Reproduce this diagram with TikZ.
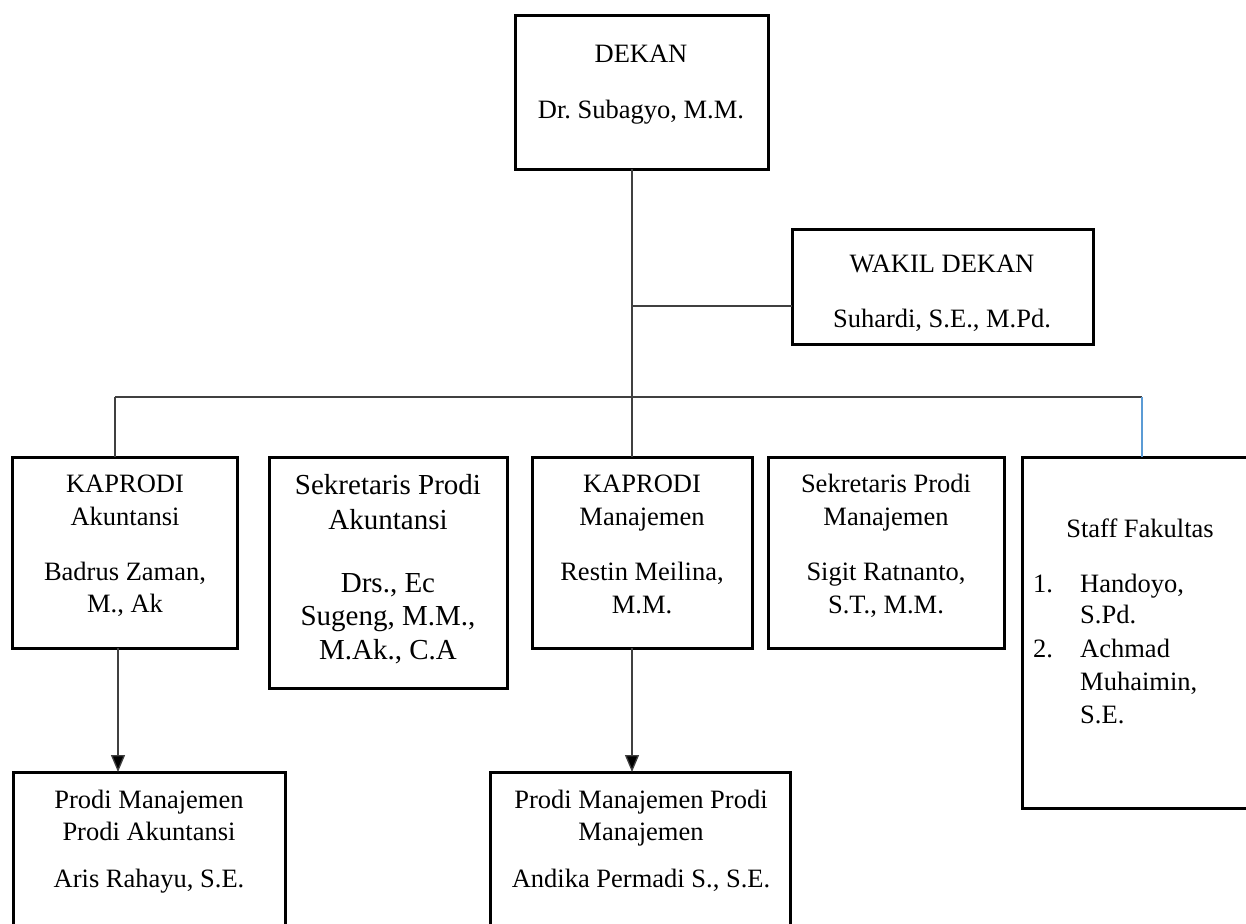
\documentclass[tikz,border=0pt]{standalone}
\usepackage{fontspec}
\setmainfont{Liberation Serif}
\usetikzlibrary{arrows.meta}
\definecolor{linkblue}{HTML}{5B9BD5}
\frenchspacing
\begin{document}
\begin{tikzpicture}[x=1pt,y=-1pt,
  box/.style={draw=black,line width=3pt,anchor=north west,inner sep=0pt,outer sep=0pt},
  conn/.style={draw=black!75,line width=1.3pt},
  arr/.style={conn,-{Triangle[length=17pt,width=14pt,fill=black]}},
  txt/.style={anchor=base,inner sep=0pt,font=\fontsize{26.5}{30}\selectfont},
  bigtxt/.style={txt,font=\fontsize{29}{33}\selectfont},
  ltxt/.style={txt,anchor=base west}]
\useasboundingbox (0,0) rectangle (1246,923);
\clip (0,0) rectangle (1246,923);
% boxes
\node[box,minimum width=253pt,minimum height=153pt] (dekan) at (515,16) {};
\node[box,minimum width=301pt,minimum height=115pt] (wakil) at (792,229) {};
\node[box,minimum width=225pt,minimum height=191pt] (ka) at (12,457) {};
\node[box,minimum width=238pt,minimum height=231pt] (sa) at (269,457) {};
\node[box,minimum width=220pt,minimum height=191pt] (km) at (532,457) {};
\node[box,minimum width=236pt,minimum height=191pt] (sm) at (768,457) {};
\node[box,minimum width=300pt,minimum height=351pt] (staff) at (1022,457) {};
\node[box,minimum width=272pt,minimum height=200pt] (pa) at (13,772) {};
\node[box,minimum width=300pt,minimum height=200pt] (pm) at (490,772) {};
% texts
\node[txt] (dekan1) at (641,63) {DEKAN};
\node[txt] (dekan2) at (641,118) {Dr. Subagyo, M.M.};
\node[txt] (wakil1) at (942,272) {WAKIL DEKAN};
\node[txt] (wakil2) at (942,327) {Suhardi, S.E., M.Pd.};
\node[txt] (ka1) at (125,492) {KAPRODI};
\node[txt] (ka2) at (125,525) {Akuntansi};
\node[txt] (ka3) at (125,580) {Badrus Zaman,};
\node[txt] (ka4) at (125,612) {M., Ak};
\node[bigtxt] (sa1) at (388,494) {Sekretaris Prodi};
\node[bigtxt] (sa2) at (388,529) {Akuntansi};
\node[bigtxt] (sa3) at (388,592) {Drs., Ec};
\node[bigtxt] (sa4) at (388,625) {Sugeng, M.M.,};
\node[bigtxt] (sa5) at (388,659) {M.Ak., C.A};
\node[txt] (km1) at (642,492) {KAPRODI};
\node[txt] (km2) at (642,525) {Manajemen};
\node[txt] (km3) at (642,580) {Restin Meilina,};
\node[txt] (km4) at (642,613) {M.M.};
\node[txt] (sm1) at (886,492) {Sekretaris Prodi};
\node[txt] (sm2) at (886,525) {Manajemen};
\node[txt] (sm3) at (886,580) {Sigit Ratnanto,};
\node[txt] (sm4) at (886,613) {S.T., M.M.};
\node[txt] (st0) at (1140,537) {Staff Fakultas};
\node[ltxt] (st1n) at (1033,592) {1.};
\node[ltxt] (st1a) at (1080,592) {Handoyo,};
\node[ltxt] (st1b) at (1080,623) {S.Pd.};
\node[ltxt] (st2n) at (1033,657) {2.};
\node[ltxt] (st2a) at (1080,657) {Achmad};
\node[ltxt] (st2b) at (1080,690) {Muhaimin,};
\node[ltxt] (st2c) at (1080,723) {S.E.};
\node[txt] (pa1) at (149,808) {Prodi Manajemen};
\node[txt] (pa2) at (149,840) {Prodi Akuntansi};
\node[txt] (pa3) at (149,887) {Aris Rahayu, S.E.};
\node[txt] (pm1) at (641,808) {Prodi Manajemen Prodi};
\node[txt] (pm2) at (641,840) {Manajemen};
\node[txt] (pm3) at (641,887) {Andika Permadi S., S.E.};
% connectors
\coordinate (spine) at (632,0);
\coordinate (branch) at (632,306);
\coordinate (busL) at (115,397);
\coordinate (busR) at (1142,397);
\coordinate (arrA) at (118,0);
\draw[conn] (dekan.south -| spine) -- (km.north -| spine);
\draw[conn] (branch) -- (branch -| wakil.west);
\draw[conn] (busL) -- (busR);
\draw[conn] (busL) -- (busL |- ka.north);
\draw[conn,draw=linkblue] (busR) -- (busR |- staff.north);
\draw[arr] (ka.south -| arrA) -- (pa.north -| arrA);
\draw[arr] (km.south -| spine) -- (pm.north -| spine);
\end{tikzpicture}
\end{document}
